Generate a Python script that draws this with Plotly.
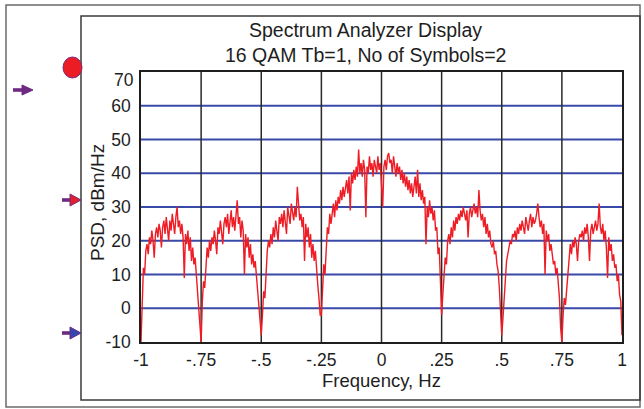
import numpy as np
import plotly.graph_objects as go

# PSD samples (dBm/Hz), 0.005 Hz spacing, one list per spectral lobe
lobe_m1_00 = [-10, 4, 12, 10, 17, 19, 16, 21, 19, 23, 20, 15, 22, 24, 21, 25, 23, 18, 24, 26,
              22, 27, 24, 20, 26, 23, 28, 25, 22, 27, 30, 24, 26, 22, 25, 21, 9, 22, 19, 23,
              17, 21, 14, 18, 13, 15, 10, 7, 3, -4]
lobe_m0_75 = [-10, 2, 8, 6, 14, 18, 15, 20, 17, 21, 19, 23, 20, 16, 24, 22, 26, 23, 19, 25,
              27, 24, 28, 22, 26, 29, 24, 27, 23, 28, 32, 25, 27, 21, 26, 23, 10, 22, 18, 21,
              15, 19, 13, 16, 12, 14, 9, 5, 1, -5]
lobe_m0_50 = [-8, -2, 5, 3, 12, 17, 20, 18, 22, 19, 24, 21, 26, 23, 20, 27, 25, 28, 24, 29,
              26, 22, 30, 27, 25, 31, 28, 26, 30, 27, 36, 29, 26, 28, 24, 27, 14, 25, 21, 24,
              18, 22, 15, 19, 14, 17, 11, 7, 3, -2]
main_lobe = [-2, 6, 13, 10, 19, 24, 22, 28, 25, 29, 31, 27, 32, 29, 33, 31, 35, 32, 36, 33,
             35, 38, 34, 39, 29, 40, 37, 41, 38, 42, 39, 47, 40, 43, 39, 44, 41, 27, 42, 40,
             45, 41, 43, 39, 44, 42, 40, 45, 41, 43, 38, 30, 42, 44, 41, 45, 46, 43, 44, 40,
             45, 42, 39, 43, 40, 42, 38, 41, 37, 40, 36, 39, 35, 38, 34, 37, 33, 36, 39, 34,
             41, 33, 37, 32, 35, 31, 33, 19, 30, 27, 32, 28, 30, 26, 29, 23, 24, 16, 18, 8]
lobe_p0_25 = [-2, 4, 10, 15, 13, 20, 22, 19, 24, 21, 26, 23, 27, 25, 28, 26, 29, 27, 30, 28,
              26, 29, 21, 28, 30, 27, 29, 31, 28, 30, 27, 35, 29, 26, 28, 24, 27, 22, 25, 21,
              23, 19, 18, 20, 16, 17, 13, 11, 6, -4]
lobe_p0_50 = [-8, -3, 4, 9, 14, 16, 18, 20, 19, 22, 21, 23, 20, 24, 22, 25, 23, 26, 24, 22,
              27, 25, 23, 26, 28, 24, 27, 25, 26, 28, 31, 27, 24, 26, 22, 25, 10, 23, 20, 22,
              17, 19, 15, 13, 14, 10, 12, 8, 3, -6]
lobe_p0_75 = [-10, -2, 3, 1, 6, 12, 17, 19, 16, 20, 18, 21, 19, 14, 20, 22, 21, 23, 20, 24,
              22, 25, 21, 14, 23, 25, 22, 24, 26, 23, 25, 31, 24, 22, 25, 20, 23, 18, 9, 21,
              17, 19, 14, 16, 12, 13, 8, 10, 4, 2, -8]

psd = (lobe_m1_00 + lobe_m0_75 + lobe_m0_50 + main_lobe
       + lobe_p0_25 + lobe_p0_50 + lobe_p0_75)
freq = np.round(-1 + 0.005 * np.arange(len(psd)), 3)

x_ticks = [-1, -0.75, -0.5, -0.25, 0, 0.25, 0.5, 0.75, 1]
x_tick_text = ["-1", "-.75", "-.5", "-.25", "0", ".25", ".5", ".75", "1"]
y_ticks = [-10, 0, 10, 20, 30, 40, 50, 60]

W, H = 644, 409
L, R, T, B = 141, 622, 72, 342

def px(x):
    return (x - L) / (R - L)

def py(y):
    return (B - y) / (B - T)

FONT = "Liberation Sans, Arial, sans-serif"

fig = go.Figure()
fig.add_trace(go.Scatter(x=freq, y=psd, mode="lines",
                         line=dict(color="#ee1c24", width=1.4),
                         hoverinfo="skip", showlegend=False))

shapes = []
# outer frame and instrument panel
shapes.append(dict(type="rect", xref="paper", yref="paper",
                   x0=px(6), x1=px(640), y0=py(407), y1=py(5),
                   line=dict(color="#6b6b6b", width=1.5), layer="below"))
shapes.append(dict(type="path", xref="paper", yref="paper",
                   path=f"M{px(81)},{py(400)} L{px(81)},{py(16)} L{px(640)},{py(16)} L{px(640)},{py(400)} Z",
                   line=dict(color="#3a3a3a", width=1.5), layer="below"))
# horizontal blue grid lines
for v in [0, 10, 20, 30, 40, 50, 60]:
    shapes.append(dict(type="line", xref="x", yref="y", x0=-1, x1=1, y0=v, y1=v,
                       line=dict(color="#3949a8", width=2), layer="below"))
# vertical grid lines
for v in x_ticks[1:-1]:
    shapes.append(dict(type="line", xref="x", yref="y", x0=v, x1=v, y0=-10, y1=70,
                       line=dict(color="#2a2a2a", width=1.5), layer="below"))
# port marker and arrows on the panel edge
shapes.append(dict(type="circle", xref="paper", yref="paper",
                   x0=px(63), x1=px(82), y0=py(78), y1=py(57),
                   fillcolor="#ec1c24", line=dict(color="#7a2a7a", width=1)))

def arrow(x0, xm, x1, yc, shaft_col, head_col, hh):
    shapes.append(dict(type="path", xref="paper", yref="paper",
                       path=f"M{px(x0)},{py(yc - 1.8)} L{px(xm)},{py(yc - 1.8)} L{px(xm)},{py(yc + 1.8)} L{px(x0)},{py(yc + 1.8)} Z",
                       fillcolor=shaft_col, line=dict(width=0)))
    shapes.append(dict(type="path", xref="paper", yref="paper",
                       path=f"M{px(xm - 1)},{py(yc - hh)} L{px(x1)},{py(yc)} L{px(xm - 1)},{py(yc + hh)} Z",
                       fillcolor=head_col, line=dict(color=shaft_col, width=1)))

arrow(13, 23, 33, 90, "#6e2a82", "#6e2a82", 5)
arrow(62, 71, 81, 200, "#6e2a82", "#e3202a", 6)
arrow(62, 71, 81, 333, "#6e2a82", "#3346b0", 6)

fig.update_layout(
    width=W, height=H,
    margin=dict(l=L, r=W - R, t=T, b=H - B),
    paper_bgcolor="white", plot_bgcolor="white",
    font=dict(family=FONT, size=18, color="#1e1e1e"),
    shapes=shapes,
    xaxis=dict(range=[-1, 1], tickvals=x_ticks, ticktext=x_tick_text,
               showgrid=False, zeroline=False, showline=True, mirror=True,
               linecolor="#1e1e1e", linewidth=1.5, ticks="", ticklabelstandoff=1,
               tickfont=dict(size=17.5),
               title=dict(text="Frequency, Hz", standoff=3, font=dict(size=18.5))),
    yaxis=dict(range=[-10, 70], tickvals=y_ticks, ticktext=[str(v) for v in y_ticks],
               showgrid=False, zeroline=False, showline=True, mirror=True,
               linecolor="#1e1e1e", linewidth=1.5, ticks="", ticklabelstandoff=5,
               tickfont=dict(size=17.5)),
    annotations=[
        dict(text="70", xref="paper", yref="y", x=0, y=67.6, xanchor="right",
             yanchor="middle", xshift=-5, showarrow=False, font=dict(size=17.5)),
        dict(text="PSD, dBm/Hz", xref="paper", yref="paper",
             x=px(97), y=py(203), xanchor="center", yanchor="middle",
             textangle=-90, showarrow=False, font=dict(size=19)),
        dict(text="Spectrum Analyzer Display", xref="paper", yref="paper",
             x=px(365), y=py(30), xanchor="center", yanchor="middle",
             showarrow=False, font=dict(size=19.5)),
        dict(text="16 QAM Tb=1, No of Symbols=2", xref="paper", yref="paper",
             x=px(365), y=py(55), xanchor="center", yanchor="middle",
             showarrow=False, font=dict(size=19.5)),
    ],
)

fig.write_html("out.html")
